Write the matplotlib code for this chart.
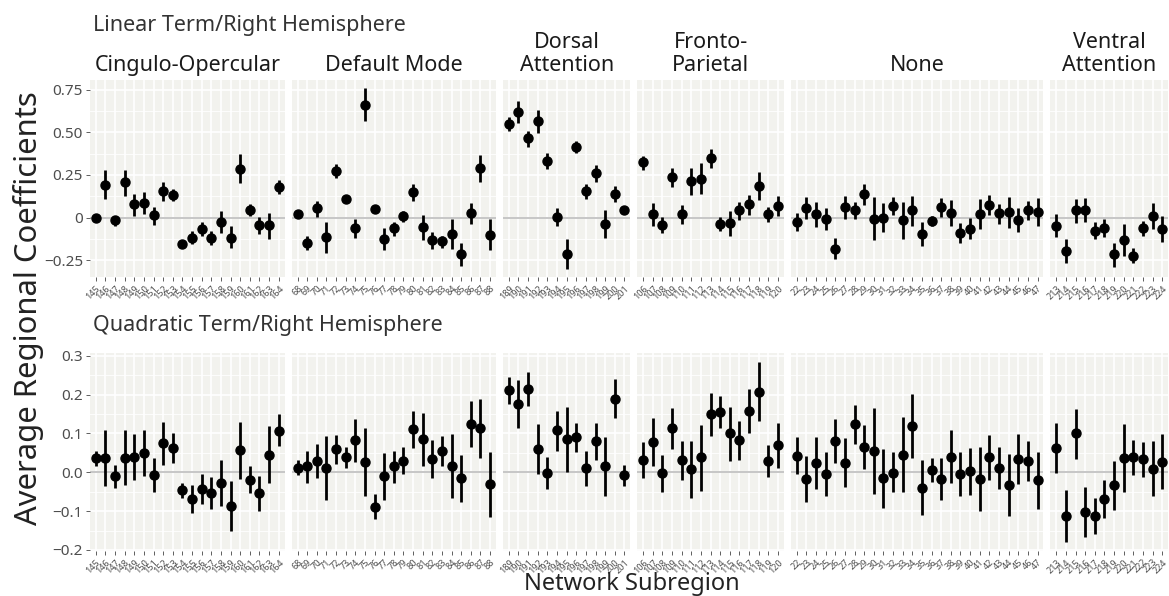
import numpy as np
import matplotlib.pyplot as plt

plt.rcParams['font.family'] = ['Noto Sans', 'DejaVu Sans']

# networks and their subregion ids
networks = ['Cingulo-Opercular', 'Default Mode', 'Dorsal\nAttention',
            'Fronto-\nParietal', 'None', 'Ventral\nAttention']
reg_co = list(range(145, 165))
reg_dm = list(range(68, 89))
reg_da = list(range(189, 202))
reg_fp = list(range(106, 121))
reg_no = list(range(22, 48))
reg_va = list(range(213, 225))

# linear term: mean, lower, upper
lin_co = [-0.004, 0.19, -0.014, 0.21, 0.078, 0.084, 0.016, 0.156, 0.135, -0.156,
          -0.117, -0.064, -0.121, -0.023, -0.117, 0.285, 0.045, -0.045, -0.045, 0.181]
lin_co_lo = [-0.014, 0.11, -0.05, 0.13, 0.01, 0.02, -0.04, 0.095, 0.10, -0.17,
             -0.155, -0.107, -0.16, -0.09, -0.18, 0.206, 0.01, -0.095, -0.125, 0.14]
lin_co_hi = [0.006, 0.28, 0.01, 0.28, 0.14, 0.15, 0.06, 0.21, 0.17, -0.145,
             -0.08, -0.027, -0.08, 0.04, -0.05, 0.37, 0.08, 0.003, 0.03, 0.22]

lin_dm = [0.02, -0.146, 0.059, -0.111, 0.275, 0.11, -0.062, 0.66, 0.051, -0.125, -0.062,
          0.01, 0.148, -0.054, -0.131, -0.136, -0.095, -0.212, 0.026, 0.291, -0.1]
lin_dm_lo = [0.005, -0.189, 0.006, -0.205, 0.235, 0.09, -0.121, 0.564, 0.025, -0.189, -0.105,
             -0.023, 0.10, -0.131, -0.185, -0.175, -0.185, -0.28, -0.036, 0.209, -0.191]
lin_dm_hi = [0.035, -0.107, 0.10, -0.023, 0.313, 0.128, -0.009, 0.76, 0.07, -0.062, -0.023,
             0.04, 0.197, 0.016, -0.082, -0.105, -0.007, -0.15, 0.088, 0.367, -0.009]

lin_da = [0.55, 0.62, 0.465, 0.564, 0.334, 0.004, -0.213, 0.416, 0.156, 0.26, -0.037, 0.139, 0.043]
lin_da_lo = [0.509, 0.556, 0.415, 0.493, 0.288, -0.049, -0.30, 0.38, 0.11, 0.21, -0.12, 0.09, 0.022]
lin_da_hi = [0.587, 0.685, 0.509, 0.63, 0.376, 0.055, -0.127, 0.45, 0.20, 0.307, 0.045, 0.185, 0.065]

lin_fp = [0.324, 0.022, -0.041, 0.238, 0.022, 0.213, 0.228, 0.347, -0.039, -0.032,
          0.045, 0.078, 0.185, 0.02, 0.068]
lin_fp_lo = [0.278, -0.047, -0.09, 0.18, -0.036, 0.135, 0.139, 0.29, -0.08, -0.107,
             -0.014, 0.018, 0.105, -0.023, 0.01]
lin_fp_hi = [0.362, 0.084, 0.006, 0.29, 0.073, 0.29, 0.318, 0.40, 0.002, 0.041,
             0.094, 0.133, 0.267, 0.061, 0.125]

lin_no = [-0.023, 0.057, 0.02, -0.006, -0.181, 0.061, 0.045, 0.137, -0.006, 0.0, 0.07, -0.014, 0.043,
          -0.095, -0.019, 0.061, 0.027, -0.088, -0.064, 0.022, 0.074, 0.026, 0.031, -0.015, 0.043, 0.031]
lin_no_lo = [-0.076, -0.01, -0.057, -0.072, -0.242, -0.01, -0.008, 0.076, -0.131, -0.084, 0.014, -0.127, -0.047,
             -0.168, -0.049, 0.002, -0.049, -0.15, -0.127, -0.066, 0.014, -0.036, -0.058, -0.086, -0.014, -0.051]
lin_no_hi = [0.025, 0.123, 0.09, 0.055, -0.121, 0.129, 0.094, 0.196, 0.119, 0.084, 0.123, 0.094, 0.129,
             -0.023, 0.01, 0.117, 0.103, -0.029, -0.004, 0.109, 0.133, 0.08, 0.119, 0.055, 0.098, 0.115]

lin_va = [-0.047, -0.193, 0.043, 0.047, -0.076, -0.058, -0.214, -0.131, -0.222, -0.06, 0.01, -0.066]
lin_va_lo = [-0.115, -0.264, -0.029, -0.023, -0.127, -0.111, -0.287, -0.224, -0.264, -0.105, -0.068, -0.141]
lin_va_hi = [0.02, -0.125, 0.109, 0.113, -0.027, -0.01, -0.146, -0.039, -0.179, -0.018, 0.084, 0.01]

# quadratic term: mean, lower, upper
quad_co = [0.036, 0.036, -0.01, 0.036, 0.04, 0.049, -0.007, 0.075, 0.063, -0.046,
           -0.069, -0.043, -0.053, -0.028, -0.087, 0.057, -0.02, -0.054, 0.045, 0.107]
quad_co_lo = [0.015, -0.035, -0.04, -0.034, -0.021, -0.009, -0.052, 0.019, 0.025, -0.066,
              -0.104, -0.082, -0.095, -0.088, -0.151, -0.017, -0.054, -0.101, -0.028, 0.067]
quad_co_hi = [0.056, 0.108, 0.019, 0.109, 0.098, 0.108, 0.036, 0.13, 0.10, -0.027,
              -0.033, -0.004, -0.011, 0.032, -0.022, 0.13, 0.015, -0.009, 0.118, 0.15]

quad_dm = [0.012, 0.015, 0.029, 0.012, 0.059, 0.039, 0.082, 0.027, -0.089, -0.01, 0.015,
           0.03, 0.111, 0.086, 0.034, 0.056, 0.016, -0.015, 0.125, 0.114, -0.03]
quad_dm_lo = [-0.008, -0.027, -0.016, -0.072, 0.021, 0.012, 0.027, -0.061, -0.12, -0.072, -0.027,
              -0.005, 0.063, 0.016, -0.016, 0.016, -0.067, -0.077, 0.066, 0.037, -0.114]
quad_dm_hi = [0.032, 0.056, 0.072, 0.093, 0.096, 0.066, 0.137, 0.114, -0.057, 0.05, 0.056,
              0.064, 0.158, 0.153, 0.084, 0.093, 0.098, 0.044, 0.184, 0.189, 0.053]

quad_da = [0.211, 0.175, 0.215, 0.06, -0.001, 0.108, 0.086, 0.09, 0.012, 0.08, 0.016, 0.19, -0.007]
quad_da_lo = [0.177, 0.113, 0.17, -0.004, -0.042, 0.056, 0.002, 0.053, -0.035, 0.032, -0.06, 0.139, -0.035]
quad_da_hi = [0.245, 0.237, 0.259, 0.124, 0.04, 0.158, 0.169, 0.126, 0.056, 0.126, 0.091, 0.24, 0.019]

quad_fp = [0.031, 0.077, -0.003, 0.113, 0.031, 0.008, 0.039, 0.149, 0.156, 0.10,
           0.083, 0.158, 0.207, 0.029, 0.069]
quad_fp_lo = [-0.015, 0.015, -0.052, 0.061, -0.021, -0.065, -0.047, 0.093, 0.115, 0.028,
              0.032, 0.102, 0.131, -0.011, 0.012]
quad_fp_hi = [0.077, 0.139, 0.044, 0.165, 0.081, 0.081, 0.122, 0.204, 0.197, 0.169,
              0.133, 0.214, 0.283, 0.069, 0.126]

quad_no = [0.043, -0.017, 0.023, -0.004, 0.081, 0.025, 0.124, 0.065, 0.055, -0.016, -0.001, 0.045, 0.119,
           -0.04, 0.005, -0.017, 0.04, -0.004, 0.003, -0.017, 0.039, 0.012, -0.033, 0.034, 0.029, -0.021]
quad_no_lo = [-0.005, -0.076, -0.044, -0.061, 0.023, -0.038, 0.073, 0.008, -0.055, -0.092, -0.052, -0.052, 0.037,
              -0.109, -0.026, -0.071, -0.028, -0.061, -0.058, -0.099, -0.019, -0.042, -0.112, -0.031, -0.022, -0.095]
quad_no_hi = [0.09, 0.042, 0.09, 0.051, 0.137, 0.088, 0.174, 0.123, 0.166, 0.059, 0.052, 0.143, 0.201,
              0.031, 0.036, 0.036, 0.109, 0.051, 0.063, 0.064, 0.095, 0.066, 0.046, 0.099, 0.08, 0.053]

quad_va = [0.063, -0.113, 0.10, -0.102, -0.113, -0.07, -0.034, 0.036, 0.039, 0.033, 0.008, 0.027]
quad_va_lo = [-0.002, -0.18, 0.033, -0.167, -0.16, -0.118, -0.098, -0.052, -0.006, -0.011, -0.062, -0.044]
quad_va_hi = [0.128, -0.045, 0.164, -0.038, -0.065, -0.021, 0.029, 0.124, 0.082, 0.077, 0.081, 0.098]

regions = [reg_co, reg_dm, reg_da, reg_fp, reg_no, reg_va]
lin_rows = [(lin_co, lin_co_lo, lin_co_hi), (lin_dm, lin_dm_lo, lin_dm_hi),
            (lin_da, lin_da_lo, lin_da_hi), (lin_fp, lin_fp_lo, lin_fp_hi),
            (lin_no, lin_no_lo, lin_no_hi), (lin_va, lin_va_lo, lin_va_hi)]
quad_rows = [(quad_co, quad_co_lo, quad_co_hi), (quad_dm, quad_dm_lo, quad_dm_hi),
             (quad_da, quad_da_lo, quad_da_hi), (quad_fp, quad_fp_lo, quad_fp_hi),
             (quad_no, quad_no_lo, quad_no_hi), (quad_va, quad_va_lo, quad_va_hi)]

W, H = 1169, 596
fig = plt.figure(figsize=(W / 100, H / 100), dpi=100)


def px_rect(x0, y0, x1, y1):
    return [x0 / W, 1 - y1 / H, (x1 - x0) / W, (y1 - y0) / H]


BG = '#F2F2EE'
unit, gap, left = 9.63, 7.2, 90


def draw_row(rows, ytop, ybot, ylim, yticks, ylabels, yminor, strips):
    x = left
    for k, (regs, (m, lo, hi)) in enumerate(zip(regions, rows)):
        n = len(regs)
        wpx = (n + 0.2) * unit
        ax = fig.add_axes(px_rect(x, ytop, x + wpx, ybot))
        x += wpx + gap
        ax.set_facecolor(BG)
        for s in ax.spines.values():
            s.set_visible(False)
        pos = np.arange(n)
        ax.set_xlim(-0.6, n - 0.4)
        ax.set_ylim(*ylim)
        for yy in yminor:
            ax.axhline(yy, color='white', lw=0.6, zorder=0)
        for yy in yticks:
            ax.axhline(yy, color='white', lw=1.2, zorder=0)
        for xx in pos:
            ax.axvline(xx, color='white', lw=1.2, zorder=0)
        ax.axhline(0, color='#BDBDBD', lw=1.2, zorder=1)
        m, lo, hi = np.array(m), np.array(lo), np.array(hi)
        ax.vlines(pos, lo, hi, color='black', lw=2.0, zorder=2)
        ax.plot(pos, m, 'o', color='black', ms=6.5, zorder=3)
        ax.set_xticks(pos)
        ax.set_xticklabels([str(r) for r in regs], rotation=45, ha='right', va='top',
                           rotation_mode='anchor', fontsize=6.5, color='#4D4D4D')
        ax.tick_params(axis='x', length=3, width=0.6, color='#444444', pad=2)
        ax.set_yticks(yticks)
        if k == 0:
            ax.set_yticklabels(ylabels, fontsize=11, color='#4D4D4D')
            ax.tick_params(axis='y', length=3, width=0.6, color='#444444', pad=2)
        else:
            ax.set_yticklabels([])
            ax.tick_params(axis='y', length=0)
        if strips:
            ax.text(0.5, 1.02, networks[k], transform=ax.transAxes, ha='center', va='bottom',
                    fontsize=15.5, color='#1A1A1A', linespacing=1.1)


draw_row(lin_rows, 80, 277, (-0.347, 0.806), [-0.25, 0, 0.25, 0.5, 0.75],
         ['\u22120.25', '0', '0.25', '0.50', '0.75'], [-0.125, 0.125, 0.375, 0.625], True)
draw_row(quad_rows, 352.7, 550.7, (-0.202, 0.308), [-0.2, -0.1, 0, 0.1, 0.2, 0.3],
         ['\u22120.2', '\u22120.1', '0.0', '0.1', '0.2', '0.3'],
         [-0.15, -0.05, 0.05, 0.15, 0.25], False)

fig.text(93 / W, 1 - 31 / H, 'Linear Term/Right Hemisphere', fontsize=15.5,
         color='#333333', ha='left', va='baseline')
fig.text(93 / W, 1 - 331 / H, 'Quadratic Term/Right Hemisphere', fontsize=15.5,
         color='#333333', ha='left', va='baseline')
fig.text(29 / W, 1 - 308 / H, 'Average Regional Coefficients', fontsize=22.3,
         color='#222222', rotation=90, ha='center', va='center')
fig.text(632 / W, 1 - 590 / H, 'Network Subregion', fontsize=17,
         color='#222222', ha='center', va='baseline')

fig.savefig('out.png', dpi=100)
